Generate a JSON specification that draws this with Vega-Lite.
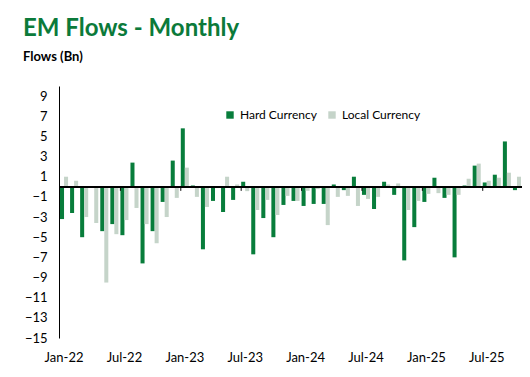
{
  "$schema": "https://vega.github.io/schema/vega-lite/v6.json",
  "width": 463,
  "height": 252,
  "autosize": {"type": "none"},
  "padding": {"left": 59, "top": 86, "right": 8, "bottom": 39},
  "background": "white",
  "config": {
    "font": "Lato",
    "view": {"stroke": null},
    "axisY": {"labelOverlap": false}
  },
  "title": {
    "text": "EM Flows - Monthly",
    "subtitle": "Flows (Bn)",
    "anchor": "start",
    "frame": "group",
    "dx": -36,
    "offset": 22,
    "font": "Lato",
    "fontSize": 24,
    "fontWeight": "bold",
    "color": "#0B7A3A",
    "subtitleFont": "Lato",
    "subtitleFontSize": 13,
    "subtitleFontWeight": "bold",
    "subtitleColor": "#000000",
    "subtitlePadding": 10
  },
  "data": {
    "values": [
      {"month": "Jan-22", "Hard Currency": -3.2, "Local Currency": 1.0},
      {"month": "Feb-22", "Hard Currency": -2.6, "Local Currency": 0.6},
      {"month": "Mar-22", "Hard Currency": -5.0, "Local Currency": -3.0},
      {"month": "Apr-22", "Hard Currency": 0.0, "Local Currency": -3.6},
      {"month": "May-22", "Hard Currency": -4.4, "Local Currency": -9.5},
      {"month": "Jun-22", "Hard Currency": -3.7, "Local Currency": -4.7},
      {"month": "Jul-22", "Hard Currency": -4.8, "Local Currency": -3.3},
      {"month": "Aug-22", "Hard Currency": 2.4, "Local Currency": -2.1},
      {"month": "Sep-22", "Hard Currency": -7.6, "Local Currency": -3.7},
      {"month": "Oct-22", "Hard Currency": -4.4, "Local Currency": -5.6},
      {"month": "Nov-22", "Hard Currency": -1.5, "Local Currency": -3.0},
      {"month": "Dec-22", "Hard Currency": 2.6, "Local Currency": -1.1},
      {"month": "Jan-23", "Hard Currency": 5.8, "Local Currency": 1.9},
      {"month": "Feb-23", "Hard Currency": 0.13, "Local Currency": -1.0},
      {"month": "Mar-23", "Hard Currency": -6.2, "Local Currency": -2.0},
      {"month": "Apr-23", "Hard Currency": -1.4, "Local Currency": -0.13},
      {"month": "May-23", "Hard Currency": -2.5, "Local Currency": 1.0},
      {"month": "Jun-23", "Hard Currency": -1.3, "Local Currency": 0.23},
      {"month": "Jul-23", "Hard Currency": 0.5, "Local Currency": -0.43},
      {"month": "Aug-23", "Hard Currency": -6.7, "Local Currency": -2.3},
      {"month": "Sep-23", "Hard Currency": -3.1, "Local Currency": -1.3},
      {"month": "Oct-23", "Hard Currency": -5.0, "Local Currency": -2.8},
      {"month": "Nov-23", "Hard Currency": -1.8, "Local Currency": -0.9},
      {"month": "Dec-23", "Hard Currency": -1.4, "Local Currency": -1.4},
      {"month": "Jan-24", "Hard Currency": -1.9, "Local Currency": -0.4},
      {"month": "Feb-24", "Hard Currency": -1.7, "Local Currency": -0.23},
      {"month": "Mar-24", "Hard Currency": -1.7, "Local Currency": -3.8},
      {"month": "Apr-24", "Hard Currency": 0.23, "Local Currency": -1.0},
      {"month": "May-24", "Hard Currency": -0.33, "Local Currency": -0.9},
      {"month": "Jun-24", "Hard Currency": 1.0, "Local Currency": -1.9},
      {"month": "Jul-24", "Hard Currency": -0.8, "Local Currency": -1.2},
      {"month": "Aug-24", "Hard Currency": -2.2, "Local Currency": -1.0},
      {"month": "Sep-24", "Hard Currency": 0.5, "Local Currency": 0.23},
      {"month": "Oct-24", "Hard Currency": -0.8, "Local Currency": 0.33},
      {"month": "Nov-24", "Hard Currency": -7.3, "Local Currency": -2.3},
      {"month": "Dec-24", "Hard Currency": -4.0, "Local Currency": -1.4},
      {"month": "Jan-25", "Hard Currency": -1.5, "Local Currency": -0.7},
      {"month": "Feb-25", "Hard Currency": 0.9, "Local Currency": -0.63},
      {"month": "Mar-25", "Hard Currency": -1.1, "Local Currency": -0.8},
      {"month": "Apr-25", "Hard Currency": -7.0, "Local Currency": -0.8},
      {"month": "May-25", "Hard Currency": 0.13, "Local Currency": 0.8},
      {"month": "Jun-25", "Hard Currency": 2.1, "Local Currency": 2.3},
      {"month": "Jul-25", "Hard Currency": 0.43, "Local Currency": 0.6},
      {"month": "Aug-25", "Hard Currency": 1.2, "Local Currency": 0.9},
      {"month": "Sep-25", "Hard Currency": 4.5, "Local Currency": 1.4},
      {"month": "Oct-25", "Hard Currency": -0.33, "Local Currency": 1.0}
    ]
  },
  "layer": [
    {
      "transform": [{"fold": ["Hard Currency", "Local Currency"], "as": ["series", "value"]}],
      "mark": {"type": "bar"},
      "encoding": {
        "x": {
          "field": "month",
          "type": "ordinal",
          "sort": null,
          "scale": {"paddingInner": 0.2, "paddingOuter": 0.1},
          "axis": {
            "title": null,
            "domain": false,
            "ticks": false,
            "labelAngle": 0,
            "labelPadding": 13,
            "labelFontSize": 13,
            "labelColor": "#000000",
            "values": ["Jan-22", "Jul-22", "Jan-23", "Jul-23", "Jan-24", "Jul-24", "Jan-25", "Jul-25"]
          }
        },
        "xOffset": {"field": "series", "type": "nominal", "sort": ["Hard Currency", "Local Currency"]},
        "y": {
          "field": "value",
          "type": "quantitative",
          "scale": {"domain": [-15, 10], "nice": false, "zero": false},
          "axis": {
            "title": null,
            "grid": false,
            "ticks": false,
            "domain": true,
            "domainColor": "#000000",
            "domainWidth": 1,
            "labelPadding": 12,
            "labelFontSize": 13,
            "labelColor": "#000000",
            "labelOverlap": false,
            "tickCount": 30,
            "values": [-15, -13, -11, -9, -7, -5, -3, -1, 1, 3, 5, 7, 9]
          }
        },
        "color": {
          "field": "series",
          "type": "nominal",
          "sort": ["Hard Currency", "Local Currency"],
          "scale": {"domain": ["Hard Currency", "Local Currency"], "range": ["#087D3B", "#C5D4C9"]},
          "legend": {
            "title": null,
            "orient": "none",
            "direction": "horizontal",
            "legendX": 165,
            "legendY": 23,
            "symbolType": "square",
            "symbolSize": 55,
            "symbolStrokeWidth": 0,
            "labelFontSize": 12,
            "labelColor": "#000000",
            "labelOffset": 4,
            "columnPadding": 9
          }
        }
      }
    },
    {
      "mark": {"type": "rule", "color": "#000000", "strokeWidth": 1.5},
      "encoding": {"y": {"datum": 0}}
    },
    {
      "transform": [{"filter": {"field": "month", "oneOf": ["Jul-22", "Jan-23", "Jul-23", "Jan-24", "Jul-24", "Jan-25", "Jul-25"]}}],
      "mark": {"type": "rule", "color": "#000000", "strokeWidth": 1},
      "encoding": {
        "x": {"field": "month", "type": "ordinal", "sort": null, "bandPosition": 0},
        "y": {"datum": 0},
        "y2": {"datum": -0.4}
      }
    }
  ]
}
